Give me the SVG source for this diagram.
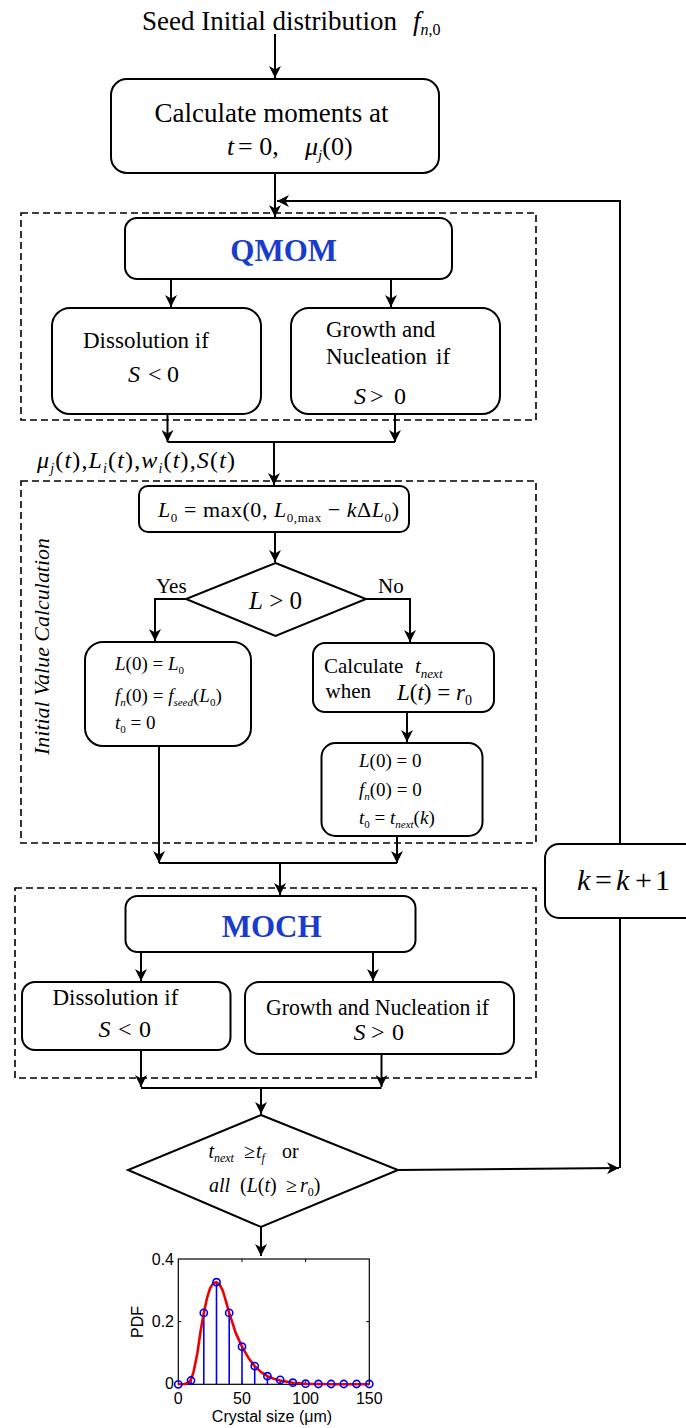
<svg xmlns="http://www.w3.org/2000/svg" width="686" height="1428" viewBox="0 0 686 1428">
<defs>
<style>
.box{fill:#fff;stroke:#000;stroke-width:2}
.dash{fill:none;stroke:#000;stroke-width:1.6;stroke-dasharray:7 4}
.conn path{fill:none;stroke:#000;stroke-width:2}
.tx{font-family:"Liberation Serif","Times New Roman",serif;fill:#000}
.it{font-style:italic}
.blue{font-weight:bold;fill:#1a3ccc;font-size:31px}
.sans{font-family:"Liberation Sans",Arial,sans-serif;font-size:16px;fill:#000}
.stem{stroke:#0000ee;stroke-width:1.6}
.dot{fill:none;stroke:#0000ee;stroke-width:1.6}
</style>
<marker id="ah" viewBox="0 0 12 12" refX="12" refY="6" markerWidth="12" markerHeight="12" markerUnits="userSpaceOnUse" orient="auto"><path d="M0,0 L12,6 L0,12 L3.5,6 Z" fill="#000"/></marker>
</defs>
<rect width="686" height="1428" fill="#fff"/>

<g id="dashed-groups">
<rect class="dash" x="21" y="213" width="515" height="207"/>
<rect class="dash" x="21" y="481" width="515" height="362"/>
<rect class="dash" x="15" y="888" width="521" height="190"/>
</g>

<g id="title">
<text class="tx" x="142" y="30" font-size="27">Seed Initial distribution</text>
<text class="tx it" x="413" y="30" font-size="27">f<tspan font-size="16" dy="5">n</tspan><tspan font-size="16" font-style="normal">,0</tspan></text>
</g>

<g id="calc-moments">
<rect class="box" x="111" y="79" width="328" height="94" rx="16"/>
<text class="tx" x="271.5" y="122" font-size="27" text-anchor="middle">Calculate moments at</text>
<text class="tx" y="155" font-size="26"><tspan x="227" class="it">t</tspan><tspan x="238">= 0,</tspan><tspan x="305" class="it">μ</tspan><tspan class="it" font-size="15" dy="5">j</tspan><tspan dy="-5">(0)</tspan></text>
</g>

<g id="qmom">
<rect class="box" x="125" y="218" width="327" height="61" rx="12"/>
<text class="tx blue" x="283.7" y="261" text-anchor="middle">QMOM</text>
</g>

<g id="qmom-dissolution">
<rect class="box" x="52" y="308" width="209" height="106" rx="18"/>
<text class="tx" x="83" y="348" font-size="23">Dissolution if</text>
<text class="tx" y="382" font-size="24"><tspan x="128" class="it">S</tspan><tspan x="148">&lt;</tspan><tspan x="167">0</tspan></text>
</g>

<g id="qmom-growth">
<rect class="box" x="291" y="308" width="209" height="106" rx="18"/>
<text class="tx" x="326" y="337" font-size="23">Growth and</text>
<text class="tx" y="364" font-size="23"><tspan x="326">Nucleation</tspan><tspan x="436">if</tspan></text>
<text class="tx" y="404" font-size="24"><tspan x="354" class="it">S</tspan><tspan x="370">&gt;</tspan><tspan x="394">0</tspan></text>
</g>

<g id="moments-label">
<text class="tx" x="37" y="468" font-size="24" textLength="198" lengthAdjust="spacing"><tspan class="it">μ</tspan><tspan class="it" font-size="14" dy="5">j</tspan><tspan dy="-5">(</tspan><tspan class="it">t</tspan><tspan>),</tspan><tspan class="it">L</tspan><tspan class="it" font-size="14" dy="5">i</tspan><tspan dy="-5">(</tspan><tspan class="it">t</tspan><tspan>),</tspan><tspan class="it">w</tspan><tspan class="it" font-size="14" dy="5">i</tspan><tspan dy="-5">(</tspan><tspan class="it">t</tspan><tspan>),</tspan><tspan class="it">S</tspan><tspan>(</tspan><tspan class="it">t</tspan><tspan>)</tspan></text>
</g>

<g id="ivc-label">
<text class="tx it" transform="translate(49,646.5) rotate(-90)" x="0" y="0" font-size="22" text-anchor="middle" textLength="217" lengthAdjust="spacingAndGlyphs">Initial Value Calculation</text>
</g>

<g id="l0-box">
<rect class="box" x="139" y="486" width="270" height="46" rx="9"/>
<text class="tx" x="158" y="517" font-size="22" textLength="241" lengthAdjust="spacing"><tspan class="it">L</tspan><tspan font-size="13" dy="5">0</tspan><tspan dy="-5"> = max(0, </tspan><tspan class="it">L</tspan><tspan font-size="13" dy="5">0,max</tspan><tspan dy="-5"> − </tspan><tspan class="it">k</tspan><tspan>Δ</tspan><tspan class="it">L</tspan><tspan font-size="13" dy="5">0</tspan><tspan dy="-5">)</tspan></text>
</g>

<g id="decision-l">
<path class="box" d="M275.5,563 L366,599 L275.5,636 L186,599 Z"/>
<text class="tx" x="249" y="609" font-size="25"><tspan class="it">L</tspan> &gt; 0</text>
<text class="tx" x="156" y="593" font-size="21">Yes</text>
<text class="tx" x="378" y="593" font-size="21">No</text>
</g>

<g id="yes-init">
<rect class="box" x="85" y="642" width="166" height="104" rx="18"/>
<text class="tx" x="115" y="670" font-size="19"><tspan class="it">L</tspan>(0) = <tspan class="it">L</tspan><tspan font-size="11" dy="4">0</tspan></text>
<text class="tx" x="115" y="702" font-size="19"><tspan class="it">f</tspan><tspan class="it" font-size="11" dy="4">n</tspan><tspan dy="-4">(0) = </tspan><tspan class="it">f</tspan><tspan class="it" font-size="11" dy="4">seed</tspan><tspan dy="-4">(</tspan><tspan class="it">L</tspan><tspan font-size="11" dy="4">0</tspan><tspan dy="-4">)</tspan></text>
<text class="tx" x="115" y="729" font-size="19"><tspan class="it">t</tspan><tspan font-size="11" dy="4">0</tspan><tspan dy="-4"> = 0</tspan></text>
</g>

<g id="no-calc">
<rect class="box" x="313" y="643" width="181" height="69" rx="12"/>
<text class="tx" y="673" font-size="21"><tspan x="324">Calculate</tspan><tspan x="415" class="it">t</tspan><tspan class="it" font-size="13" dy="5">next</tspan></text>
<text class="tx" x="325.5" y="698" font-size="21">when</text>
<text class="tx" x="397" y="700" font-size="23"><tspan class="it">L</tspan>(<tspan class="it">t</tspan>) = <tspan class="it">r</tspan><tspan font-size="14" dy="5">0</tspan></text>
</g>

<g id="no-init">
<rect class="box" x="321.5" y="743" width="161" height="93" rx="14"/>
<text class="tx" x="359" y="767" font-size="19"><tspan class="it">L</tspan>(0) = 0</text>
<text class="tx" x="359" y="796" font-size="19"><tspan class="it">f</tspan><tspan class="it" font-size="11" dy="4">n</tspan><tspan dy="-4">(0) = 0</tspan></text>
<text class="tx" x="359" y="824" font-size="19"><tspan class="it">t</tspan><tspan font-size="11" dy="4">0</tspan><tspan dy="-4"> = </tspan><tspan class="it">t</tspan><tspan class="it" font-size="11" dy="4">next</tspan><tspan dy="-4">(</tspan><tspan class="it">k</tspan><tspan>)</tspan></text>
</g>

<g id="moch">
<rect class="box" x="125.5" y="896" width="290" height="56" rx="12"/>
<text class="tx blue" x="271.7" y="937" text-anchor="middle">MOCH</text>
</g>

<g id="moch-dissolution">
<rect class="box" x="22" y="982" width="208.5" height="68" rx="13"/>
<text class="tx" x="52.5" y="1005" font-size="23">Dissolution if</text>
<text class="tx" y="1037" font-size="24"><tspan x="98.4" class="it">S</tspan><tspan x="118">&lt;</tspan><tspan x="139">0</tspan></text>
</g>

<g id="moch-growth">
<rect class="box" x="245" y="982" width="269" height="72" rx="14"/>
<text class="tx" x="266" y="1015" font-size="23" textLength="223" lengthAdjust="spacingAndGlyphs">Growth and Nucleation if</text>
<text class="tx" y="1040" font-size="24"><tspan x="353.5" class="it">S</tspan><tspan x="371">&gt;</tspan><tspan x="392">0</tspan></text>
</g>

<g id="k-increment">
<rect class="box" x="545" y="844" width="170" height="74" rx="14"/>
<text class="tx" y="890" font-size="30"><tspan x="577" class="it">k</tspan><tspan x="595">=</tspan><tspan x="616" class="it">k</tspan><tspan x="635">+</tspan><tspan x="655">1</tspan></text>
</g>

<g id="decision-end">
<path class="box" d="M261,1115 L398,1170 L261,1227 L128,1170 Z"/>
<text class="tx" y="1158" font-size="20"><tspan x="208.4" class="it">t</tspan><tspan class="it" font-size="12" dy="4">next</tspan><tspan x="244" dy="-4">≥</tspan><tspan x="256" class="it">t</tspan><tspan class="it" font-size="12" dy="4">f</tspan><tspan x="282" dy="-4">or</tspan></text>
<text class="tx" y="1192" font-size="20"><tspan x="209" class="it">all</tspan><tspan x="240">(</tspan><tspan class="it">L</tspan><tspan>(</tspan><tspan class="it">t</tspan><tspan>)</tspan><tspan x="286">≥</tspan><tspan x="300" class="it">r</tspan><tspan font-size="12" dy="4">0</tspan><tspan dy="-4">)</tspan></text>
</g>

<g class="conn" id="connectors">
<path d="M275,34 L275,78" marker-end="url(#ah)"/>
<path d="M275,173 L275,217" marker-end="url(#ah)"/>
<path d="M171,279 L171,307" marker-end="url(#ah)"/>
<path d="M391,279 L391,307" marker-end="url(#ah)"/>
<path d="M167.5,414 L167.5,442" marker-end="url(#ah)"/>
<path d="M395,414 L395,442" marker-end="url(#ah)"/>
<path d="M167.5,442 L395,442"/>
<path d="M274,442 L274,485" marker-end="url(#ah)"/>
<path d="M275,532 L275,562" marker-end="url(#ah)"/>
<path d="M186,599 L155,599 L155,641" marker-end="url(#ah)"/>
<path d="M366,599 L410,599 L410,642" marker-end="url(#ah)"/>
<path d="M407,712 L407,742" marker-end="url(#ah)"/>
<path d="M159,746 L159,863" marker-end="url(#ah)"/>
<path d="M397,836 L397,863" marker-end="url(#ah)"/>
<path d="M159,863 L397,863"/>
<path d="M280,863 L280,895" marker-end="url(#ah)"/>
<path d="M141,952 L141,981" marker-end="url(#ah)"/>
<path d="M373,952 L373,981" marker-end="url(#ah)"/>
<path d="M141,1050 L141,1087" marker-end="url(#ah)"/>
<path d="M381.5,1054 L381.5,1087" marker-end="url(#ah)"/>
<path d="M141,1088 L381.5,1088"/>
<path d="M261,1088 L261,1114" marker-end="url(#ah)"/>
<path d="M261,1227 L261,1256" marker-end="url(#ah)"/>
<path d="M398,1170 L619,1168" marker-end="url(#ah)"/>
<path d="M620,1168 L620,918"/>
<path d="M620,844 L620,201 L277,201" marker-end="url(#ah)"/>
</g>

<g id="pdf-plot">
<rect x="178.3" y="1259" width="191" height="125.3" fill="#fff" stroke="#000" stroke-width="1.2"/>
<path d="M242,1384.3 v-3 M305.6,1384.3 v-3 M242,1259 v3 M305.6,1259 v3 M178.3,1321.6 h3 M369.3,1321.6 h-3" stroke="#000" stroke-width="1"/>
<g>
<line class="stem" x1="191" y1="1384.3" x2="191" y2="1380.5"/>
<line class="stem" x1="203.8" y1="1384.3" x2="203.8" y2="1312.9"/>
<line class="stem" x1="216.5" y1="1384.3" x2="216.5" y2="1282.2"/>
<line class="stem" x1="229.2" y1="1384.3" x2="229.2" y2="1312.9"/>
<line class="stem" x1="242" y1="1384.3" x2="242" y2="1346.7"/>
<line class="stem" x1="254.7" y1="1384.3" x2="254.7" y2="1366.1"/>
<line class="stem" x1="267.4" y1="1384.3" x2="267.4" y2="1376.2"/>
<line class="stem" x1="280.2" y1="1384.3" x2="280.2" y2="1379.9"/>
</g>
<polyline fill="none" stroke="#ee0000" stroke-width="2.6" stroke-linejoin="round" points="178.3,1384.3 184.7,1384 188.5,1382.7 191,1379.6 193.6,1371.8 197.4,1353 200.6,1331 203.8,1312.9 207,1298.2 210.1,1288.1 213.3,1283.1 216.5,1282.2 219.7,1284.7 222.9,1291 226,1301.3 229.2,1312.9 235.6,1332.6 242,1346.7 248.3,1357.7 254.7,1366.1 261.1,1372.1 267.4,1376.2 273.8,1378.7 280.2,1380.5 292.9,1382.7 305.6,1383.7 331.1,1384.3 369.3,1384.3"/>
<g>
<circle class="dot" cx="178.3" cy="1384.3" r="3.6"/>
<circle class="dot" cx="191" cy="1380.5" r="3.6"/>
<circle class="dot" cx="203.8" cy="1312.9" r="3.6"/>
<circle class="dot" cx="216.5" cy="1282.2" r="3.6"/>
<circle class="dot" cx="229.2" cy="1312.9" r="3.6"/>
<circle class="dot" cx="242" cy="1346.7" r="3.6"/>
<circle class="dot" cx="254.7" cy="1366.1" r="3.6"/>
<circle class="dot" cx="267.4" cy="1376.2" r="3.6"/>
<circle class="dot" cx="280.2" cy="1379.9" r="3.6"/>
<circle class="dot" cx="292.9" cy="1382.7" r="3.6"/>
<circle class="dot" cx="305.6" cy="1383.7" r="3.6"/>
<circle class="dot" cx="318.4" cy="1384" r="3.6"/>
<circle class="dot" cx="331.1" cy="1384" r="3.6"/>
<circle class="dot" cx="343.8" cy="1384" r="3.6"/>
<circle class="dot" cx="356.6" cy="1384" r="3.6"/>
<circle class="dot" cx="369.3" cy="1384" r="3.6"/>
</g>
<text class="sans" x="174" y="1265" text-anchor="end">0.4</text>
<text class="sans" x="174" y="1327" text-anchor="end">0.2</text>
<text class="sans" x="174" y="1389" text-anchor="end">0</text>
<text class="sans" x="178.3" y="1404" text-anchor="middle">0</text>
<text class="sans" x="242" y="1404" text-anchor="middle">50</text>
<text class="sans" x="305.6" y="1404" text-anchor="middle">100</text>
<text class="sans" x="369.3" y="1404" text-anchor="middle">150</text>
<text class="sans" x="272" y="1422" text-anchor="middle">Crystal size (μm)</text>
<text class="sans" transform="translate(143,1322) rotate(-90)" x="0" y="0" text-anchor="middle">PDF</text>
</g>
</svg>
